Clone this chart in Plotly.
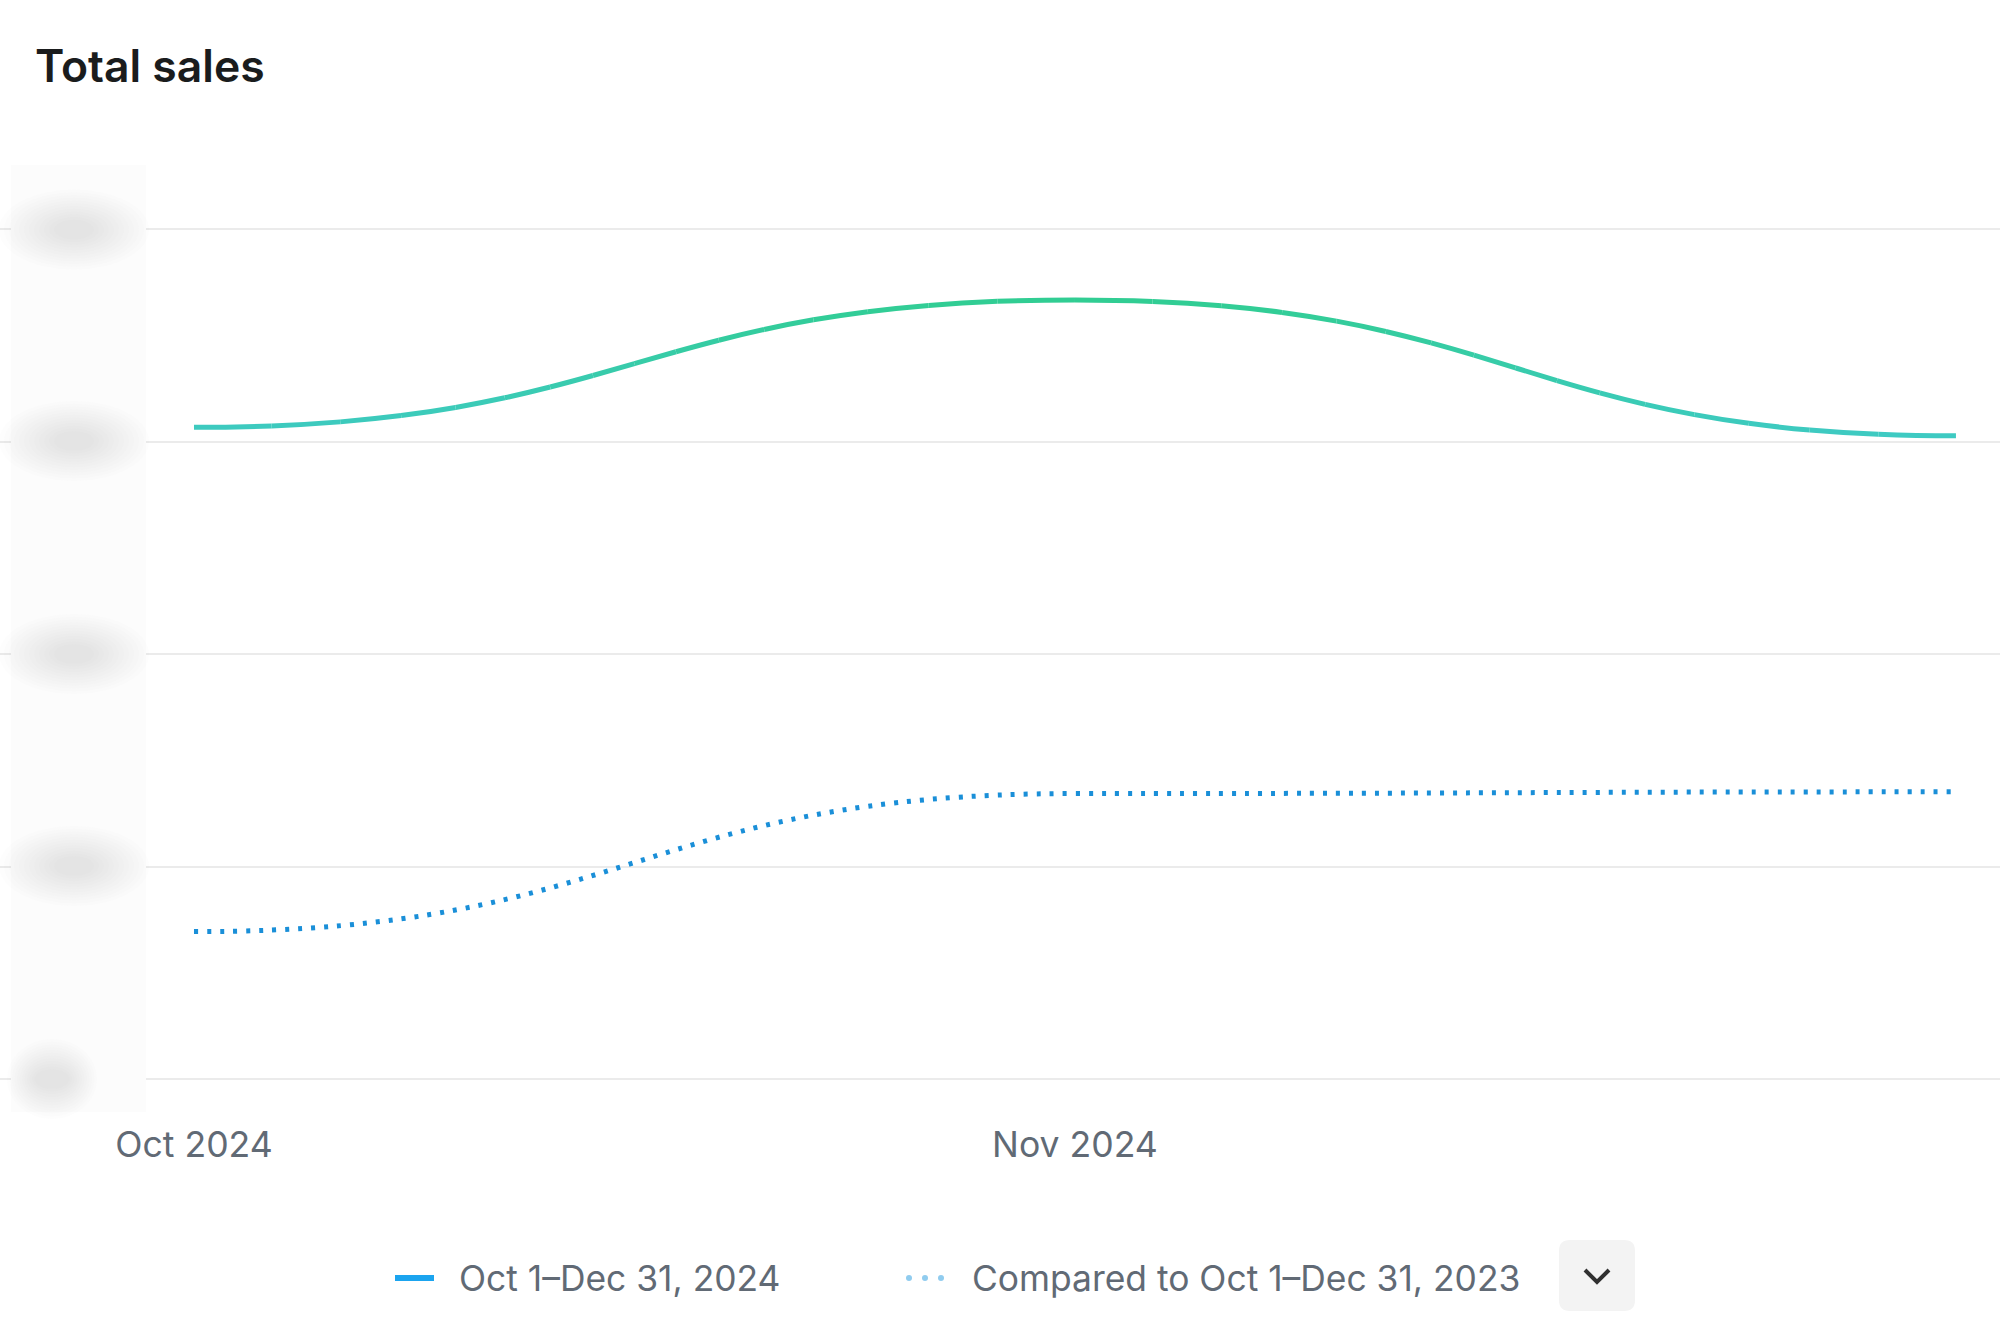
import plotly.graph_objects as go

# ---------------- data ----------------
months = ["Oct 2024", "Nov 2024", "Dec 2024"]
x_idx = [0, 1, 2]
sales_2024 = [15340, 18340, 15140]
sales_2023 = [3470, 6720, 6760]
y_tick_vals = [0, 5000, 10000, 15000, 20000]
x_tick_vals = [0, 1]
x_tick_labels = ["Oct 2024", "Nov 2024"]
legend_labels = ["Oct 1\u2013Dec 31, 2024", "Compared to Oct 1\u2013Dec 31, 2023"]
title_text = "Total sales"

# ---------------- layout constants ----------------
W, H = 2000, 1332
M_T, M_B, M_L, M_R = 150, 232, 0, 0
PLOT_BOTTOM = H - M_B
PLOT_H = H - M_T - M_B
FONT = "Inter, Noto Sans, sans-serif"
GREEN_LO = (0x3e, 0xca, 0xc2)
GREEN_HI = (0x31, 0xcd, 0x93)
BLUE_DOT = "#1a8fd8"
GREY_TEXT = "#616a75"


def px(x):
    return x / W


def py(y):
    return (PLOT_BOTTOM - y) / PLOT_H


def de_casteljau(p, t):
    lerp = lambda a, b: (a[0] + (b[0] - a[0]) * t, a[1] + (b[1] - a[1]) * t)
    a, b, c = lerp(p[0], p[1]), lerp(p[1], p[2]), lerp(p[2], p[3])
    d, e = lerp(a, b), lerp(b, c)
    f = lerp(d, e)
    return (p[0], a, d, f), (f, e, c, p[3])


def sub_curve(p, t0, t1):
    left, _ = de_casteljau(p, t1)
    if t1 == 0:
        return left
    _, right = de_casteljau(left, t0 / t1)
    return right


def bump_segments(xs, ys):
    segs = []
    for i in range(len(xs) - 1):
        x0, y0, x1, y1 = xs[i], ys[i], xs[i + 1], ys[i + 1]
        xm = (x0 + x1) / 2
        segs.append(((x0, y0), (xm, y0), (xm, y1), (x1, y1)))
    return segs


def path_of(c):
    return "M {},{} C {},{} {},{} {},{}".format(
        c[0][0], c[0][1], c[1][0], c[1][1], c[2][0], c[2][1], c[3][0], c[3][1])


shapes = []

# current period: bump curve with vertical colour gradient
ymin, ymax = min(sales_2024), max(sales_2024)
N = 16
for seg in bump_segments(x_idx, sales_2024):
    for k in range(N):
        piece = sub_curve(seg, k / N, (k + 1) / N)
        mid = de_casteljau(piece, 0.5)[0][3]
        t = (mid[1] - ymin) / (ymax - ymin) if ymax > ymin else 0
        col = tuple(int(round(GREEN_LO[j] + (GREEN_HI[j] - GREEN_LO[j]) * t)) for j in range(3))
        shapes.append(dict(type="path", xref="x", yref="y", path=path_of(piece),
                           line=dict(color="rgb({},{},{})".format(*col), width=5)))

# comparison period: dotted bump curve
dot_path = " ".join(path_of(s) if i == 0 else path_of(s).replace("M", "L", 1)
                    for i, s in enumerate(bump_segments(x_idx, sales_2023)))
shapes.append(dict(type="path", xref="x", yref="y", path=dot_path,
                   line=dict(color=BLUE_DOT, width=5, dash="4px,9px")))

# blurred (redacted) y-axis label panel
shapes.append(dict(type="rect", xref="paper", yref="paper", layer="above",
                   x0=px(11), x1=px(146), y0=py(1112), y1=py(165),
                   fillcolor="#fcfcfc", line=dict(width=0)))
grid_px = [1079, 866, 654, 441, 229.6]
NL = 12
for i, gy in enumerate(grid_px):
    cx = 52 if i == 0 else 74
    wmax = 90 if i == 0 else 150
    hmax = 80
    for L in range(NL):
        f = 1 - L / NL
        w = wmax * f + 30 * (1 - f)
        h = hmax * f + 14 * (1 - f)
        shapes.append(dict(type="circle", xref="paper", yref="paper",
                           x0=px(cx - w / 2), x1=px(cx + w / 2),
                           y0=py(gy + h / 2), y1=py(gy - h / 2),
                           fillcolor="rgba(150,150,155,0.02)", line=dict(width=0)))

# legend samples
shapes.append(dict(type="line", xref="paper", yref="paper",
                   x0=px(395), x1=px(434), y0=py(1278), y1=py(1278),
                   line=dict(color="#1ba4ef", width=6)))
for dx in [909, 925, 941]:
    shapes.append(dict(type="circle", xref="paper", yref="paper",
                       x0=px(dx - 3), x1=px(dx + 3), y0=py(1281), y1=py(1275),
                       fillcolor="#90ccef", line=dict(width=0)))

# dropdown button
bx0, bx1, by0, by1, r = 1559, 1635, 1240, 1311, 11
btn = ("M {a},{b} L {c},{b} Q {d},{b} {d},{e} L {d},{f} Q {d},{g} {c},{g} "
       "L {a},{g} Q {h},{g} {h},{f} L {h},{e} Q {h},{b} {a},{b} Z").format(
    a=px(bx0 + r), b=py(by0), c=px(bx1 - r), d=px(bx1), e=py(by0 + r),
    f=py(by1 - r), g=py(by1), h=px(bx0))
shapes.append(dict(type="path", xref="paper", yref="paper", path=btn,
                   fillcolor="#f3f3f3", line=dict(width=0)))
chev = "M {},{} L {},{} L {},{}".format(px(1585), py(1270), px(1597), py(1282), px(1609), py(1270))
shapes.append(dict(type="path", xref="paper", yref="paper", path=chev,
                   line=dict(color="#303030", width=4)))

fig = go.Figure()
fig.add_trace(go.Scatter(x=x_idx, y=sales_2024, mode="markers", name=legend_labels[0],
                         marker=dict(opacity=0, color="#33cc99"), customdata=months,
                         hovertemplate="%{customdata}: %{y}<extra></extra>", showlegend=False))
fig.add_trace(go.Scatter(x=x_idx, y=sales_2023, mode="markers", name=legend_labels[1],
                         marker=dict(opacity=0, color=BLUE_DOT), customdata=months,
                         hovertemplate="%{customdata}: %{y}<extra></extra>", showlegend=False))

annotations = [
    dict(text=title_text, xref="paper", yref="paper", x=px(33), y=py(66),
         xanchor="left", yanchor="middle", showarrow=False,
         font=dict(family=FONT, size=44.5, color="#1a1c1d", weight=600)),
    dict(text=legend_labels[0], xref="paper", yref="paper", x=px(457), y=py(1278),
         xanchor="left", yanchor="middle", showarrow=False,
         font=dict(family=FONT, size=35.4, color=GREY_TEXT)),
    dict(text=legend_labels[1], xref="paper", yref="paper", x=px(970), y=py(1278),
         xanchor="left", yanchor="middle", showarrow=False,
         font=dict(family=FONT, size=35.4, color=GREY_TEXT)),
]

fig.update_layout(
    width=W, height=H,
    margin=dict(l=M_L, r=M_R, t=M_T, b=M_B, pad=0),
    paper_bgcolor="white", plot_bgcolor="white",
    showlegend=False,
    shapes=shapes,
    annotations=annotations,
    xaxis=dict(range=[-0.2202, 2.05], tickvals=x_tick_vals, ticktext=x_tick_labels,
               showgrid=False, zeroline=False, showline=False, ticks="",
               ticklabelstandoff=20,
               tickfont=dict(family=FONT, size=35.6, color=GREY_TEXT)),
    yaxis=dict(range=[-494, 21869], tickvals=y_tick_vals, showticklabels=False,
               showgrid=True, gridcolor="#ebebeb", gridwidth=2,
               zeroline=False, showline=False, ticks=""),
    hovermode="closest",
)

fig.write_html("out.html", config={"displayModeBar": False},
               post_script="document.body.style.margin='0';document.body.style.overflow='hidden';")
